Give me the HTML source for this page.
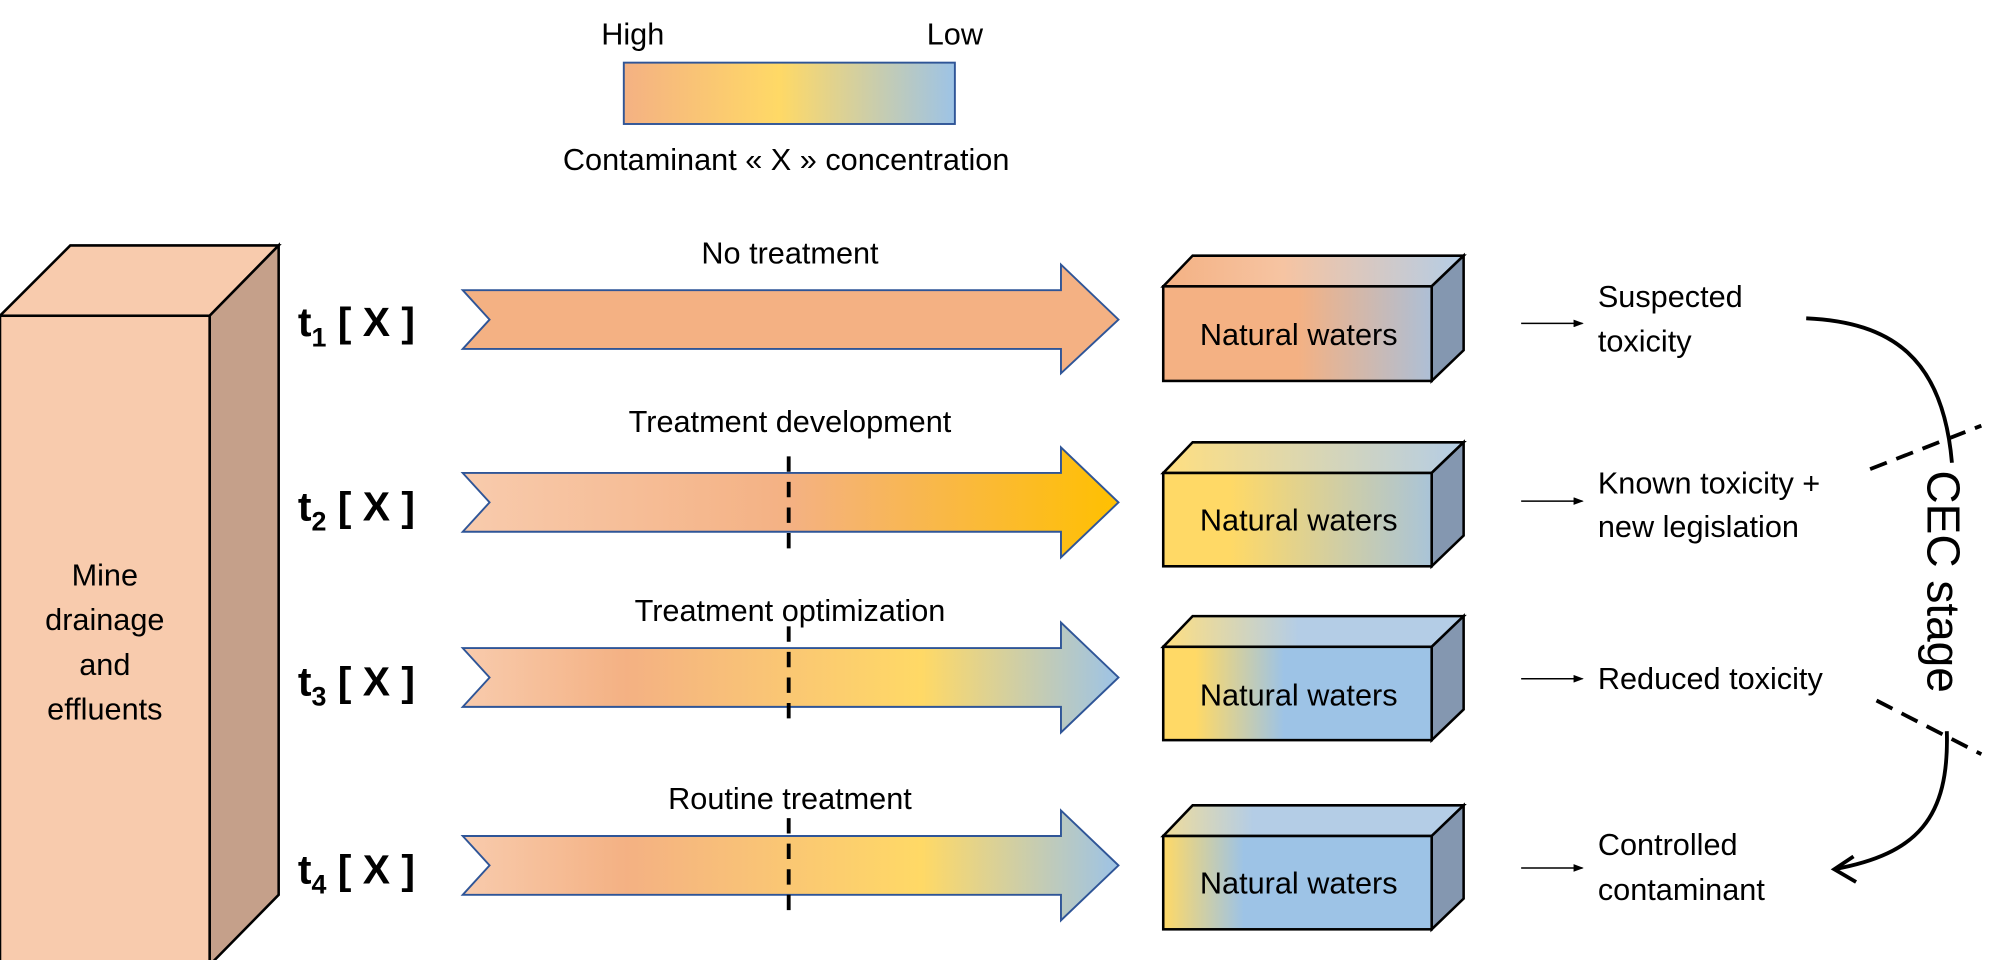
<!DOCTYPE html>
<html><head><meta charset="utf-8"><style>
html,body{margin:0;padding:0;background:#fff;}
svg{display:block;}
text{font-family:"Liberation Sans",sans-serif;fill:#000;}
</style></head><body>
<svg width="1989" height="960" viewBox="0 0 1556 751" xmlns="http://www.w3.org/2000/svg">
<defs>
<linearGradient id="leg" x1="0" x2="1" y1="0" y2="0">
<stop offset="0" stop-color="#F4B183"/><stop offset="0.47" stop-color="#FFD966"/><stop offset="1" stop-color="#9DC3E6"/></linearGradient>
<linearGradient id="a2" x1="0" x2="1"><stop offset="0" stop-color="#F8CBAD"/><stop offset="0.5" stop-color="#F4B183"/><stop offset="1" stop-color="#FFC000"/></linearGradient>
<linearGradient id="a3" x1="0" x2="1"><stop offset="0" stop-color="#F8CBAD"/><stop offset="0.25" stop-color="#F4B183"/><stop offset="0.7" stop-color="#FFD966"/><stop offset="1" stop-color="#9DC3E6"/></linearGradient>
<linearGradient id="b1" x1="0" x2="1"><stop offset="0" stop-color="#F4B183"/><stop offset="0.5" stop-color="#F4B183"/><stop offset="1" stop-color="#ADBFD6"/></linearGradient>
<linearGradient id="b1t" x1="0" x2="1"><stop offset="0" stop-color="#F4B183"/><stop offset="0.4" stop-color="#F6C4A2"/><stop offset="1" stop-color="#B4CDE6"/></linearGradient>
<linearGradient id="b2" x1="0" x2="1"><stop offset="0" stop-color="#FFD966"/><stop offset="0.25" stop-color="#FFD966"/><stop offset="1" stop-color="#A9C4D8"/></linearGradient>
<linearGradient id="b2t" x1="0" x2="1"><stop offset="0" stop-color="#FFDF80"/><stop offset="1" stop-color="#B4CDE6"/></linearGradient>
<linearGradient id="b3" x1="0" x2="1"><stop offset="0" stop-color="#FFD966"/><stop offset="0.12" stop-color="#FFD966"/><stop offset="0.45" stop-color="#9DC3E6"/><stop offset="1" stop-color="#9DC3E6"/></linearGradient>
<linearGradient id="b3t" x1="0" x2="1"><stop offset="0" stop-color="#FFDF80"/><stop offset="0.45" stop-color="#B4CDE6"/><stop offset="1" stop-color="#B4CDE6"/></linearGradient>
<linearGradient id="b4" x1="0" x2="1"><stop offset="0" stop-color="#FFD966"/><stop offset="0.3" stop-color="#9DC3E6"/><stop offset="1" stop-color="#9DC3E6"/></linearGradient>
<linearGradient id="b4t" x1="0" x2="1"><stop offset="0" stop-color="#F0DC9A"/><stop offset="0.3" stop-color="#B4CDE6"/><stop offset="1" stop-color="#B4CDE6"/></linearGradient>
<marker id="sm" markerWidth="8" markerHeight="6" refX="7" refY="3" orient="auto" markerUnits="userSpaceOnUse"><path d="M0,0 L8,3 L0,6 z" fill="#000"/></marker>
</defs>

<text x="495" y="35" font-size="24" text-anchor="middle">High</text>
<text x="747" y="35" font-size="24" text-anchor="middle">Low</text>
<rect x="488" y="49" width="259" height="48" fill="url(#leg)" stroke="#2F5597" stroke-width="1.5"/>
<text x="615" y="133" font-size="24" text-anchor="middle">Contaminant « X » concentration</text>

<polygon points="0,247 55,192 218,192 164,247" fill="#F8CBAD" stroke="#000" stroke-width="2"/>
<polygon points="164,247 218,192 218,700 164,755" fill="#C5A08A" stroke="#000" stroke-width="2"/>
<rect x="0" y="247" width="164" height="508" fill="#F8CBAD" stroke="#000" stroke-width="2"/>
<g font-size="24" text-anchor="middle">
<text x="82" y="458">Mine</text><text x="82" y="493">drainage</text><text x="82" y="528">and</text><text x="82" y="563">effluents</text>
</g>

<g font-size="32" font-weight="bold">
<text x="233" y="263">t<tspan font-size="21" dy="8">1</tspan><tspan dy="-8"> [ X ]</tspan></text>
<text x="233" y="407">t<tspan font-size="21" dy="8">2</tspan><tspan dy="-8"> [ X ]</tspan></text>
<text x="233" y="544">t<tspan font-size="21" dy="8">3</tspan><tspan dy="-8"> [ X ]</tspan></text>
<text x="233" y="691">t<tspan font-size="21" dy="8">4</tspan><tspan dy="-8"> [ X ]</tspan></text>
</g>

<g stroke="#2F5597" stroke-width="1.5">
<polygon points="362,227 830,227 830,207 875,250 830,292 830,273 362,273 383,250" fill="#F4B183"/>
<polygon points="362,370 830,370 830,350 875,393 830,436 830,416 362,416 383,393" fill="url(#a2)"/>
<polygon points="362,507 830,507 830,487 875,530 830,573 830,553 362,553 383,530" fill="url(#a3)"/>
<polygon points="362,654 830,654 830,634 875,677 830,720 830,700 362,700 383,677" fill="url(#a3)"/>
</g>
<g stroke="#000" stroke-width="3" stroke-dasharray="12,8">
<line x1="617" y1="357" x2="617" y2="431"/>
<line x1="617" y1="490" x2="617" y2="568"/>
<line x1="617" y1="640" x2="617" y2="716"/>
</g>
<g font-size="24" text-anchor="middle">
<text x="618" y="206">No treatment</text>
<text x="618" y="338">Treatment development</text>
<text x="618" y="486">Treatment optimization</text>
<text x="618" y="633">Routine treatment</text>
</g>

<g stroke="#000" stroke-width="2">
<polygon points="910,224 933,200 1145,200 1120,224" fill="url(#b1t)"/>
<polygon points="1120,224 1145,200 1145,274 1120,298" fill="#8497B0"/>
<rect x="910" y="224" width="210" height="74" fill="url(#b1)"/>
<polygon points="910,370 933,346 1145,346 1120,370" fill="url(#b2t)"/>
<polygon points="1120,370 1145,346 1145,419 1120,443" fill="#8497B0"/>
<rect x="910" y="370" width="210" height="73" fill="url(#b2)"/>
<polygon points="910,506 933,482 1145,482 1120,506" fill="url(#b3t)"/>
<polygon points="1120,506 1145,482 1145,555 1120,579" fill="#8497B0"/>
<rect x="910" y="506" width="210" height="73" fill="url(#b3)"/>
<polygon points="910,654 933,630 1145,630 1120,654" fill="url(#b4t)"/>
<polygon points="1120,654 1145,630 1145,703 1120,727" fill="#8497B0"/>
<rect x="910" y="654" width="210" height="73" fill="url(#b4)"/>
</g>
<g font-size="24" text-anchor="middle">
<text x="1016" y="270">Natural waters</text>
<text x="1016" y="415">Natural waters</text>
<text x="1016" y="552">Natural waters</text>
<text x="1016" y="699">Natural waters</text>
</g>

<g stroke="#000" stroke-width="1.2" marker-end="url(#sm)">
<line x1="1190" y1="253" x2="1238" y2="253"/>
<line x1="1190" y1="392" x2="1238" y2="392"/>
<line x1="1190" y1="531" x2="1238" y2="531"/>
<line x1="1190" y1="679" x2="1238" y2="679"/>
</g>
<g font-size="24">
<text x="1250" y="240">Suspected</text><text x="1250" y="275">toxicity</text>
<text x="1250" y="386">Known toxicity +</text><text x="1250" y="420">new legislation</text>
<text x="1250" y="539">Reduced toxicity</text>
<text x="1250" y="669">Controlled</text><text x="1250" y="704">contaminant</text>
</g>

<path d="M1413,249 C1480,252 1520,280 1527,362" fill="none" stroke="#000" stroke-width="3"/>
<path d="M1523,572 C1525,640 1500,668 1435,680" fill="none" stroke="#000" stroke-width="3"/>
<path d="M1450,670 L1435,680 L1452,690" fill="none" stroke="#000" stroke-width="3"/>
<g stroke="#000" stroke-width="3" stroke-dasharray="14,8">
<line x1="1463" y1="367" x2="1550" y2="333"/>
<line x1="1468" y1="548" x2="1550" y2="590"/>
</g>
<text x="0" y="0" font-size="36" transform="translate(1508,368) rotate(90)">CEC stage</text>
</svg>
</body></html>
